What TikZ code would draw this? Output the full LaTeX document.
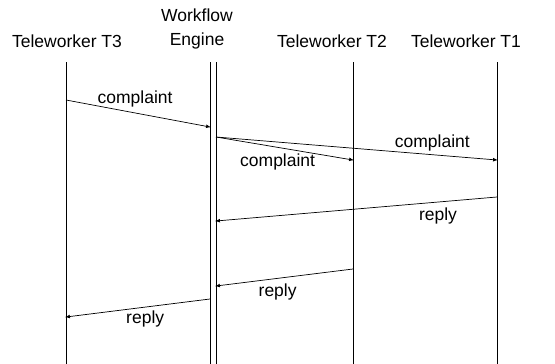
\documentclass[tikz,border=0pt]{standalone}
\usepackage{fontspec}
\setmainfont{Liberation Sans}
\usetikzlibrary{arrows}
\tikzset{arrow/.style = {line width=0.7pt,->,>=latex, shorten >=-1pt}}
\tikzset{life/.style = {line width=0.8pt}}
\tikzset{lbl/.style = {font=\fontsize{17.5}{24}\selectfont, inner sep=2pt}}

\begin{document}
\begin{tikzpicture}[x=1pt,y=-1pt]
\useasboundingbox (0,0) rectangle (555,364);

% headers
\node[lbl] (t3) at (67,41) {Teleworker T3};
\node[lbl, align=center] (wf) at (197,29) {Workflow\\Engine};
\node[lbl] (t2) at (332,41) {Teleworker T2};
\node[lbl] (t1) at (466,41) {Teleworker T1};

% lifelines
\coordinate (t3top) at (66,62);  \coordinate (t3bot) at (66,364);
\coordinate (wfltop) at (210,62); \coordinate (wflbot) at (210,364);
\coordinate (wfrtop) at (216,62); \coordinate (wfrbot) at (216,364);
\coordinate (t2top) at (353,62); \coordinate (t2bot) at (353,364);
\coordinate (t1top) at (497,62); \coordinate (t1bot) at (497,364);
\draw[life] (t3top) -- (t3bot);
\draw[life] (wfltop) -- (wflbot);
\draw[life] (wfrtop) -- (wfrbot);
\draw[life] (t2top) -- (t2bot);
\draw[life] (t1top) -- (t1bot);

% message points
\coordinate (t3a) at (66,100);   \coordinate (wfa) at (210,127);
\coordinate (wfb) at (216,137);  \coordinate (t2b) at (353,160);
\coordinate (t1b) at (497,160);
\coordinate (t1c) at (497,197);  \coordinate (wfc) at (216,221);
\coordinate (t2d) at (353,269);  \coordinate (wfd) at (216,286);
\coordinate (wfe) at (210,299);  \coordinate (t3e) at (66,317);

% messages
\draw[arrow] (t3a) -- node[lbl, above=3pt, pos=0.48] {complaint} (wfa);
\draw[arrow] (wfb) -- node[lbl, below=4pt, pos=0.45] {complaint} (t2b);
\draw[arrow] (wfb) -- node[lbl, above=1pt, pos=0.77] {complaint} (t1b);
\draw[arrow] (t1c) -- node[lbl, below=3pt, pos=0.21] {reply} (wfc);
\draw[arrow] (t2d) -- node[lbl, below=3pt, pos=0.55] {reply} (wfd);
\draw[arrow] (wfe) -- node[lbl, below=1pt, pos=0.45] {reply} (t3e);
\end{tikzpicture}
\end{document}
